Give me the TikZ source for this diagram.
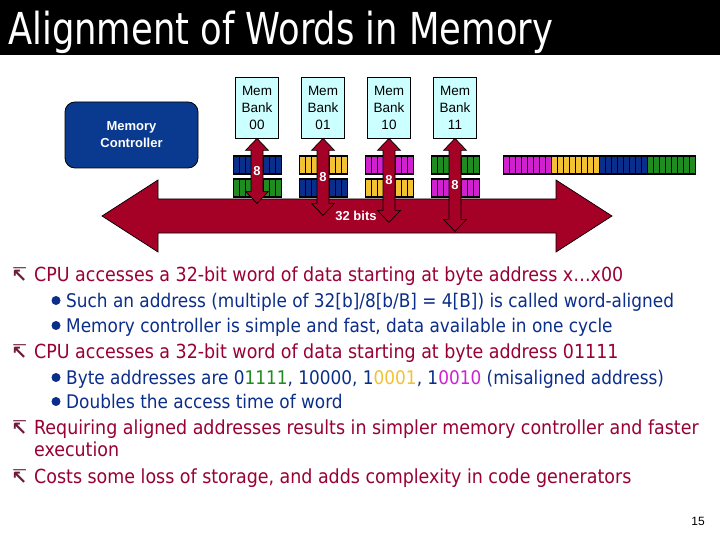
\documentclass[tikz,border=0pt]{standalone}
\usepackage{fontspec}
\setmainfont{DejaVu Sans Condensed}
\newfontfamily\arialf{Liberation Sans}
\newfontfamily\dvf{DejaVu Sans}
\usetikzlibrary{calc}
\definecolor{busred}{HTML}{A50026}
\definecolor{ctrlblue}{HTML}{0A3A8F}
\definecolor{bankcyan}{HTML}{CCFFFF}
\definecolor{lvone}{HTML}{990033}
\definecolor{lvtwo}{HTML}{0B2E8A}
\definecolor{bulone}{HTML}{6E1A3A}
\definecolor{bmag}{HTML}{D020D0}
\definecolor{byel}{HTML}{F2C232}
\definecolor{bblue}{HTML}{0A2E8C}
\definecolor{bgreen}{HTML}{1E8C1E}
\tikzset{
  bankbox/.style={draw=black, line width=0.8pt, fill=bankcyan, minimum width=43pt, minimum height=61pt,
    inner sep=0pt, align=center, font=\arialf\fontsize{13.5}{17}\selectfont},
  ctrlbox/.style={draw=black, line width=0.8pt, fill=ctrlblue, rounded corners=10pt, minimum width=133pt,
    minimum height=66pt, align=center, text=white, font=\arialf\bfseries\fontsize{13}{17}\selectfont},
  redshape/.style={fill=busred, draw=black, line width=0.7pt, line join=miter},
  bitlabel/.style={text=white, inner sep=0pt, font=\arialf\bfseries\fontsize{13}{15}\selectfont},
  lone/.style={anchor=base west, inner sep=0pt, text=lvone, font=\fontsize{19.4}{24}\selectfont},
  ltwo/.style={anchor=base west, inner sep=0pt, text=lvtwo, font=\fontsize{18.8}{22}\selectfont},
  bulonestyle/.style={anchor=base west, inner sep=0pt, text=bulone, font=\dvf\bfseries\fontsize{19}{22}\selectfont},
}
\newcommand\byteblock[3]{%
  \foreach \i in {0,...,7} {\filldraw[fill=#3, draw=black, line width=0.6pt] (#1+\i*6, #2) rectangle ++(6,18);}
  \draw[line width=1pt] (#1,#2) rectangle ++(48,18);}
\newcommand\bankarrow[3]{%
  \filldraw[redshape] (#1.south) -- ++(11.5,12) -- ++(-5.5,0) -- ++(0,#2-24) -- ++(5.5,0) -- ++(-11.5,12)
    coordinate (#3) -- ++(-11.5,-12) -- ++(5.5,0) -- ++(0,-#2+24) -- ++(-5.5,0) -- cycle;
  \node[bitlabel] at ($(#1.south)!0.5!(#3)$) {8};}
\begin{document}
\begin{tikzpicture}[x=1pt, y=-1pt]
\useasboundingbox (0,0) rectangle (720,540);
\fill[white] (0,0) rectangle (720,540);
\fill[black] (0,0) rectangle (720,55);
\node[anchor=base west, inner sep=0pt, text=white, font=\fontsize{44}{50}\selectfont] (title) at (8,45) {\scalebox{0.893}[1]{Alignment of Words in Memory}};

\node[ctrlbox] (ctrl) at (131.5,135) {Memory\\Controller};

\node[bankbox] (b00) at (257,107.5) {Mem\\Bank\\00};
\node[bankbox] (b01) at (323,107.5) {Mem\\Bank\\01};
\node[bankbox] (b10) at (389,107.5) {Mem\\Bank\\10};
\node[bankbox] (b11) at (455,107.5) {Mem\\Bank\\11};

% byte blocks
\byteblock{233}{156}{bblue}  \byteblock{233}{179}{bgreen}
\byteblock{299}{156}{byel}   \byteblock{299}{179}{bblue}
\byteblock{365}{156}{bmag}   \byteblock{365}{179}{byel}
\byteblock{431}{156}{bgreen} \byteblock{431}{179}{bmag}
% word
\byteblock{503}{156}{bmag} \byteblock{551}{156}{byel} \byteblock{599}{156}{bblue} \byteblock{647}{156}{bgreen}
\draw[line width=1pt] (503,156) rectangle (695,174);

% bus
\filldraw[redshape] (102,216) -- (158,180) -- (158,199) -- (556,199) -- (556,180) -- (612,216)
  -- (556,252) -- (556,233) -- (158,233) -- (158,252) -- cycle;
\coordinate (busmid) at (356,216);
\node[bitlabel] (buslabel) at (busmid) {32 bits};

\bankarrow{b00}{65}{e00}
\bankarrow{b01}{77}{e01}
\bankarrow{b10}{84}{e10}
\bankarrow{b11}{93}{e11}

% text
\node[bulonestyle] (u1) at (11,281) {↸};
\node[lone] (t1) at (34,281) {CPU accesses a 32-bit word of data starting at byte address x…x00};
\fill[lvtwo] (56,300.5) circle (4.5);
\node[ltwo] (t2) at (66,307) {Such an address (multiple of 32[b]/8[b/B] = 4[B]) is called word-aligned};
\fill[lvtwo] (56,325.5) circle (4.5);
\node[ltwo] (t3) at (66,332) {Memory controller is simple and fast, data available in one cycle};
\node[bulonestyle] (u2) at (11,358) {↸};
\node[lone] (t4) at (34,358) {CPU accesses a 32-bit word of data starting at byte address 01111};
\fill[lvtwo] (56,377.5) circle (4.5);
\node[ltwo] (t5) at (66,384) {Byte addresses are 0\textcolor{bgreen}{1111}, 10000, 1\textcolor{byel}{0001}, 1\textcolor{bmag}{0010} (misaligned address)};
\fill[lvtwo] (56,401.5) circle (4.5);
\node[ltwo] (t6) at (66,408) {Doubles the access time of word};
\node[bulonestyle] (u3) at (11,434) {↸};
\node[lone] (t7) at (34,434) {Requiring aligned addresses results in simpler memory controller and faster};
\node[lone] (t8) at (34,456) {execution};
\node[bulonestyle] (u4) at (11,483) {↸};
\node[lone] (t9) at (34,483) {Costs some loss of storage, and adds complexity in code generators};

\node[inner sep=0pt, font=\arialf\fontsize{12}{14}\selectfont] (page) at (698,521) {15};
\end{tikzpicture}
\end{document}
